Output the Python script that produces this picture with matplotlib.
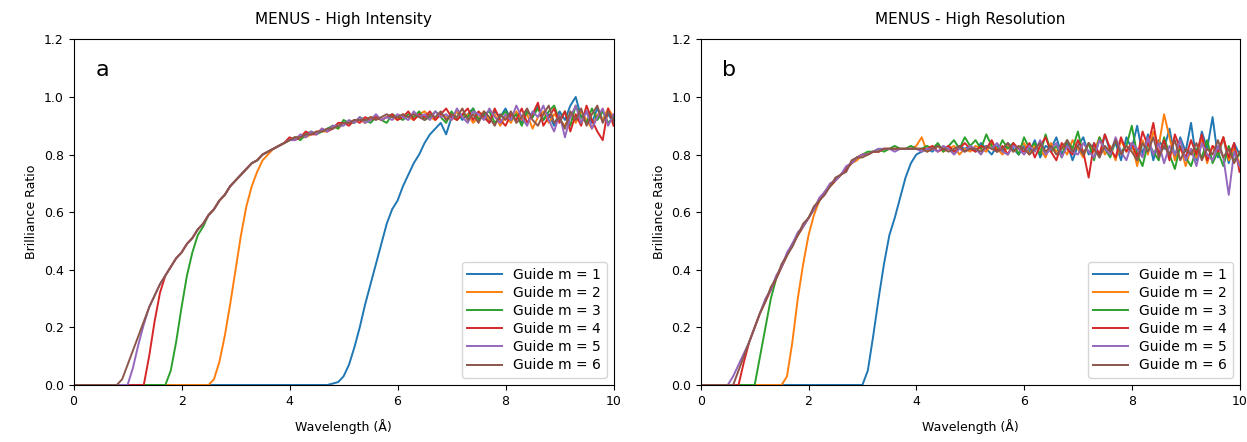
import numpy as np
import matplotlib
matplotlib.use("Agg")
from matplotlib import pyplot as plt

# wavelength grid (Angstrom), 0.1 steps
wavelength = np.round(np.arange(0, 10.01, 0.1), 2)

# --- panel a: High Intensity ---
hi_m1 = [0.0] * 48 + [
    0.005, 0.01, 0.03, 0.07, 0.13, 0.20, 0.28, 0.35, 0.42, 0.49, 0.56,
    0.61, 0.64, 0.69, 0.73, 0.77, 0.80, 0.84, 0.87, 0.89, 0.91, 0.87,
    0.93, 0.95, 0.92, 0.94, 0.96, 0.92, 0.94, 0.91, 0.95, 0.93,
    0.96, 0.92, 0.94, 0.91, 0.95, 0.93, 0.97, 0.92, 0.94, 0.90,
    0.95, 0.92, 0.97, 1.00, 0.93, 0.95, 0.91, 0.96, 0.92, 0.94,
    0.91]
hi_m2 = [0.0] * 26 + [
    0.02, 0.08, 0.17, 0.28, 0.40, 0.52, 0.62, 0.69, 0.74, 0.78, 0.80, 0.82, 0.83, 0.84,
    0.85, 0.86, 0.86, 0.86, 0.87, 0.88, 0.88, 0.88, 0.90, 0.89,
    0.91, 0.91, 0.92, 0.92, 0.91, 0.93, 0.93, 0.92, 0.93, 0.93,
    0.92, 0.94, 0.93, 0.92, 0.94, 0.95, 0.93, 0.92, 0.94, 0.93,
    0.92, 0.95, 0.93, 0.94, 0.91, 0.93, 0.95, 0.92, 0.94, 0.90,
    0.93, 0.91, 0.95, 0.92, 0.94, 0.89, 0.93, 0.95, 0.91, 0.94,
    0.92, 0.90, 0.94, 0.91, 0.95, 0.92, 0.89, 0.94, 0.92, 0.96,
    0.93]
hi_m3 = [0.0] * 18 + [
    0.05, 0.15, 0.27, 0.38, 0.46, 0.52, 0.55, 0.59,
    0.61, 0.64, 0.66, 0.69, 0.71, 0.73, 0.75, 0.77, 0.78, 0.80, 0.81, 0.82, 0.83, 0.84,
    0.85, 0.86, 0.85, 0.87, 0.88, 0.87, 0.88, 0.89, 0.90, 0.89,
    0.92, 0.91, 0.91, 0.93, 0.92, 0.91, 0.93, 0.92, 0.91, 0.94,
    0.93, 0.92, 0.94, 0.93, 0.95, 0.92, 0.93, 0.95, 0.93, 0.91,
    0.95, 0.92, 0.94, 0.93, 0.96, 0.92, 0.94, 0.95, 0.91, 0.93,
    0.95, 0.92, 0.94, 0.90, 0.95, 0.93, 0.96, 0.92, 0.95, 0.97,
    0.92, 0.95, 0.90, 0.97, 0.93, 0.91, 0.96, 0.92, 0.95, 0.91,
    0.93]
hi_m4 = [0.0] * 14 + [
    0.10, 0.22, 0.32, 0.38, 0.41, 0.44, 0.46, 0.49, 0.51, 0.54, 0.56, 0.59,
    0.61, 0.64, 0.66, 0.69, 0.71, 0.73, 0.75, 0.77, 0.78, 0.80, 0.81, 0.82, 0.83, 0.84,
    0.86, 0.85, 0.86, 0.88, 0.87, 0.87, 0.89, 0.88, 0.89, 0.91,
    0.91, 0.90, 0.92, 0.91, 0.93, 0.92, 0.93, 0.92, 0.93, 0.94,
    0.92, 0.93, 0.95, 0.92, 0.94, 0.93, 0.95, 0.92, 0.94, 0.96,
    0.93, 0.92, 0.94, 0.96, 0.92, 0.95, 0.93, 0.91, 0.96, 0.92,
    0.90, 0.94, 0.92, 0.96, 0.91, 0.94, 0.98, 0.90, 0.93, 0.96,
    0.91, 0.95, 0.88, 0.94, 0.90, 0.97, 0.92, 0.88, 0.85, 0.96,
    0.90]
hi_m5 = [0.0] * 11 + [
    0.06, 0.14, 0.21, 0.27, 0.31, 0.35, 0.38,
    0.41, 0.44, 0.46, 0.49, 0.51, 0.54, 0.56, 0.59,
    0.61, 0.64, 0.66, 0.69, 0.71, 0.73, 0.75, 0.77, 0.78, 0.80, 0.81, 0.82, 0.83, 0.84,
    0.85, 0.85, 0.87, 0.86, 0.88, 0.87, 0.89, 0.88, 0.90, 0.90,
    0.90, 0.92, 0.91, 0.93, 0.91, 0.92, 0.94, 0.92, 0.93, 0.92,
    0.94, 0.93, 0.92, 0.95, 0.93, 0.94, 0.92, 0.95, 0.93, 0.94,
    0.92, 0.96, 0.93, 0.91, 0.95, 0.94, 0.92, 0.96, 0.93, 0.91,
    0.94, 0.92, 0.97, 0.93, 0.90, 0.95, 0.93, 0.97, 0.92, 0.88,
    0.94, 0.86, 0.93, 0.97, 0.91, 0.95, 0.89, 0.93, 0.96, 0.90,
    0.94]
hi_m6 = [0.0] * 9 + [
    0.02, 0.07, 0.12, 0.17, 0.22,
    0.27, 0.31, 0.35, 0.38, 0.41, 0.44, 0.46, 0.49, 0.51, 0.54, 0.56, 0.59,
    0.61, 0.64, 0.66, 0.69, 0.71, 0.73, 0.75, 0.77, 0.78, 0.80, 0.81, 0.82, 0.83, 0.84,
    0.85, 0.86, 0.86, 0.87, 0.87, 0.88, 0.88, 0.89, 0.89, 0.90,
    0.91, 0.91, 0.92, 0.92, 0.92, 0.93, 0.92, 0.93, 0.94, 0.93,
    0.93, 0.94, 0.93, 0.94, 0.93, 0.92, 0.94, 0.93, 0.95, 0.92,
    0.94, 0.93, 0.96, 0.92, 0.94, 0.91, 0.95, 0.93, 0.90, 0.94,
    0.92, 0.95, 0.91, 0.93, 0.96, 0.92, 0.90, 0.94, 0.97, 0.91,
    0.93, 0.89, 0.95, 0.92, 0.96, 0.90, 0.94, 0.97, 0.91, 0.95,
    0.92]

# --- panel b: High Resolution ---
hr_m1 = [0.0] * 31 + [
    0.05, 0.17, 0.30, 0.42, 0.52, 0.58, 0.65, 0.72, 0.77, 0.80,
    0.81, 0.82, 0.81, 0.83, 0.82, 0.82, 0.81, 0.83, 0.82, 0.83,
    0.81, 0.84, 0.82, 0.80, 0.83, 0.81, 0.84, 0.82, 0.80, 0.83,
    0.81, 0.85, 0.79, 0.83, 0.82, 0.86, 0.80, 0.84, 0.78, 0.83,
    0.86, 0.80, 0.84, 0.79, 0.87, 0.81, 0.84, 0.78, 0.86, 0.82,
    0.90, 0.80, 0.87, 0.78, 0.85, 0.82, 0.89, 0.79, 0.86, 0.81,
    0.91, 0.78, 0.88, 0.82, 0.93, 0.79, 0.86, 0.77, 0.84, 0.80]
hr_m2 = [0.0] * 16 + [
    0.03, 0.15, 0.30, 0.42, 0.52, 0.59, 0.64, 0.67, 0.69, 0.71,
    0.73, 0.75, 0.77, 0.78, 0.80, 0.80, 0.81, 0.81, 0.82, 0.82,
    0.82, 0.82, 0.82, 0.82, 0.83,
    0.86, 0.81, 0.82, 0.83, 0.81, 0.82, 0.83, 0.80, 0.82, 0.81,
    0.83, 0.82, 0.81, 0.84, 0.82, 0.80, 0.83, 0.81, 0.82, 0.84,
    0.80, 0.83, 0.82, 0.79, 0.84, 0.81, 0.83, 0.80, 0.85, 0.82,
    0.79, 0.84, 0.81, 0.86, 0.80, 0.83, 0.78, 0.85, 0.81, 0.84,
    0.76, 0.85, 0.80, 0.88, 0.83, 0.94, 0.86, 0.78, 0.83, 0.76,
    0.82, 0.79, 0.85, 0.77, 0.83, 0.80, 0.86, 0.78, 0.82, 0.77]
hr_m3 = [0.0] * 11 + [
    0.10, 0.20, 0.30, 0.37,
    0.41, 0.45, 0.49, 0.52, 0.55, 0.58,
    0.61, 0.64, 0.67, 0.69, 0.71, 0.73, 0.75, 0.77, 0.79, 0.80,
    0.81, 0.81, 0.82, 0.81, 0.82, 0.83, 0.82, 0.82, 0.83, 0.82,
    0.82, 0.83, 0.82, 0.84, 0.81, 0.83, 0.85, 0.82, 0.86, 0.83,
    0.85, 0.82, 0.87, 0.83, 0.81, 0.85, 0.82, 0.84, 0.80, 0.86,
    0.82, 0.84, 0.80, 0.87, 0.81, 0.83, 0.79, 0.85, 0.82, 0.88,
    0.80, 0.84, 0.78, 0.86, 0.82, 0.79, 0.85, 0.81, 0.83, 0.90,
    0.80, 0.76, 0.84, 0.81, 0.78, 0.86, 0.80, 0.75, 0.83, 0.79,
    0.76, 0.82, 0.79, 0.85, 0.77, 0.81, 0.76, 0.83, 0.78, 0.80]
hr_m4 = [0.0] * 8 + [
    0.08, 0.15, 0.20,
    0.25, 0.29, 0.33, 0.37, 0.41, 0.45, 0.49, 0.52, 0.55, 0.58,
    0.61, 0.64, 0.67, 0.69, 0.71, 0.73, 0.75, 0.77, 0.79, 0.80,
    0.80, 0.81, 0.81, 0.82, 0.82, 0.82, 0.82, 0.82, 0.82, 0.82,
    0.82, 0.82, 0.83, 0.81, 0.82, 0.83, 0.81, 0.82, 0.84, 0.82,
    0.81, 0.83, 0.82, 0.85, 0.81, 0.83, 0.80, 0.84, 0.82, 0.81,
    0.84, 0.79, 0.83, 0.86, 0.81, 0.78, 0.84, 0.82, 0.80, 0.85,
    0.81, 0.72, 0.84, 0.80, 0.87, 0.82, 0.79, 0.86, 0.81, 0.84,
    0.79, 0.88, 0.83, 0.91, 0.80, 0.85, 0.78, 0.87, 0.82, 0.79,
    0.85, 0.80, 0.87, 0.78, 0.83, 0.81, 0.86, 0.79, 0.84, 0.74]
hr_m5 = [0.0] * 6 + [
    0.03, 0.07, 0.11, 0.15,
    0.20, 0.25, 0.30, 0.33, 0.38, 0.41, 0.46, 0.49, 0.53, 0.55, 0.58,
    0.61, 0.65, 0.67, 0.70, 0.71, 0.73, 0.76, 0.77, 0.79, 0.80,
    0.80, 0.81, 0.82, 0.82, 0.82, 0.81, 0.82, 0.82, 0.82, 0.82,
    0.81, 0.82, 0.82, 0.81, 0.83, 0.82, 0.80, 0.82, 0.81, 0.83,
    0.82, 0.80, 0.83, 0.82, 0.84, 0.81, 0.80, 0.83, 0.82, 0.80,
    0.83, 0.81, 0.85, 0.80, 0.82, 0.84, 0.79, 0.83, 0.81, 0.80,
    0.84, 0.81, 0.79, 0.85, 0.82, 0.80, 0.86, 0.81, 0.78, 0.84,
    0.82, 0.79, 0.86, 0.80, 0.84, 0.77, 0.83, 0.80, 0.85, 0.78,
    0.82, 0.76, 0.84, 0.80, 0.78, 0.83, 0.79, 0.66, 0.81, 0.76]
hr_m6 = [0.0] * 7 + [
    0.05, 0.10, 0.15,
    0.20, 0.25, 0.29, 0.34, 0.37, 0.42, 0.45, 0.48, 0.52, 0.56, 0.58,
    0.62, 0.64, 0.66, 0.69, 0.72, 0.73, 0.74, 0.78, 0.79, 0.79,
    0.80, 0.81, 0.81, 0.82, 0.82, 0.82, 0.82, 0.82, 0.82, 0.82,
    0.82, 0.81, 0.82, 0.83, 0.82, 0.81, 0.82, 0.83, 0.81, 0.82,
    0.82, 0.81, 0.83, 0.82, 0.81, 0.82, 0.84, 0.81, 0.83, 0.82,
    0.80, 0.82, 0.84, 0.81, 0.83, 0.80, 0.82, 0.85, 0.81, 0.83,
    0.80, 0.84, 0.82, 0.79, 0.83, 0.81, 0.85, 0.80, 0.83, 0.81,
    0.78, 0.84, 0.81, 0.86, 0.79, 0.83, 0.80, 0.85, 0.78, 0.82,
    0.80, 0.84, 0.78, 0.82, 0.80, 0.85, 0.79, 0.82, 0.77, 0.81]

labels = ["Guide m = 1", "Guide m = 2", "Guide m = 3",
          "Guide m = 4", "Guide m = 5", "Guide m = 6"]
panels = [
    ("MENUS - High Intensity", "a", [hi_m1, hi_m2, hi_m3, hi_m4, hi_m5, hi_m6]),
    ("MENUS - High Resolution", "b", [hr_m1, hr_m2, hr_m3, hr_m4, hr_m5, hr_m6]),
]

fig = plt.figure(figsize=(12.47, 4.42), dpi=100)
ax_a = fig.add_axes([0.059, 0.129, 0.433, 0.782])
ax_b = fig.add_axes([0.562, 0.129, 0.432, 0.782])

for ax, (title, letter, series) in zip([ax_a, ax_b], panels):
    for vals, lab in zip(series, labels):
        ax.plot(wavelength, vals, lw=1.4, label=lab)
    ax.set_xlim(0, 10)
    ax.set_ylim(0, 1.2)
    ax.set_title(title, fontsize=11, pad=11)
    ax.set_xlabel("Wavelength (Å)", fontsize=9, labelpad=8)
    ax.set_ylabel("Brilliance Ratio", fontsize=9)
    ax.tick_params(labelsize=9)
    ax.text(0.04, 0.94, letter, transform=ax.transAxes, fontsize=16,
            va="top", ha="left")
    ax.legend(loc="lower right", fontsize=10, labelspacing=0.3,
              handlelength=2.5, borderaxespad=0.5)

fig.savefig("out.png", dpi=100)
